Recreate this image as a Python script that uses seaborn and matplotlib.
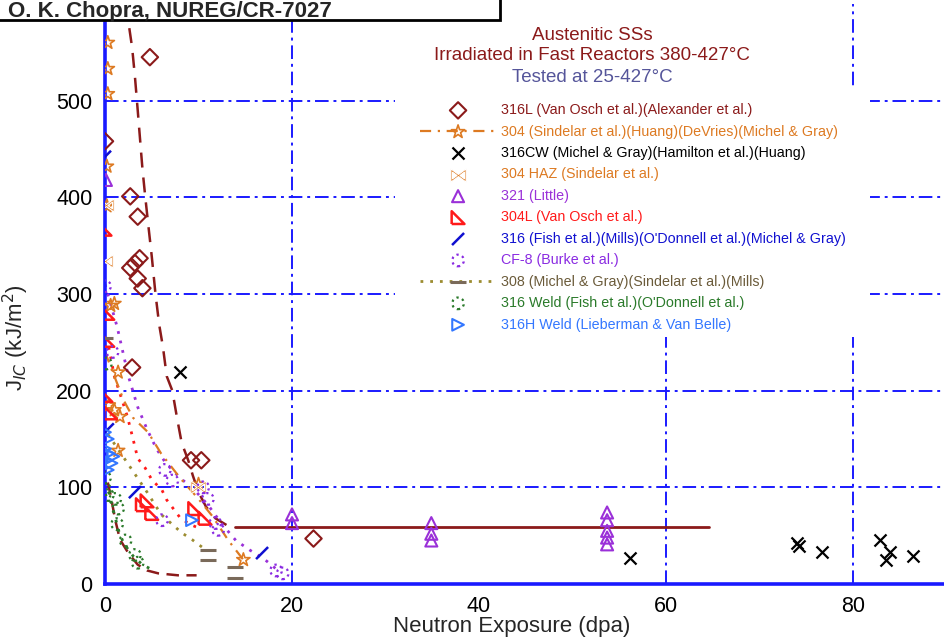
import matplotlib
matplotlib.use("Agg")
import matplotlib.pyplot as plt
import seaborn as sns
from matplotlib.patches import Rectangle
from matplotlib.ticker import MultipleLocator
from matplotlib.legend_handler import HandlerTuple

# ---------------- data ----------------
x_316L = [4.8, 0.0, 2.7, 3.5, 3.2, 2.7, 3.7, 3.5, 4.0, 2.9, 9.2, 10.3, 22.3]
y_316L = [545, 458, 401, 380, 332, 327, 337, 316, 306, 224, 128, 128, 47]

x_304 = [0.3, 0.3, 0.3, 0.2, 0.2, 0.6, 1.0, 1.4, 0.4, 1.0, 1.6, 1.4, 10.0, 14.8]
y_304 = [560, 533, 507, 432, 391, 288, 290, 219, 185, 180, 173, 138, 103, 25]

x_316CW = [8.0, 56.2, 74.0, 74.2, 76.7, 82.9, 84.0, 83.5, 86.4]
y_316CW = [219, 27, 42, 39, 33, 46, 33, 25, 29]

x_304HAZ = [0.0, 0.1, 9.9]
y_304HAZ = [334, 392, 100]

x_321 = [0.1, 20.0, 20.0, 34.9, 34.9, 34.9, 53.7, 53.7, 53.7, 53.7, 53.7]
y_321 = [418, 72, 63, 63, 52, 45, 74, 66, 55, 48, 41]

x_304L = [0.0, 0.3, 0.3, 0.1, 0.6, 4.0, 4.5, 5.0, 9.6, 10.7]
y_304L = [367, 280, 252, 195, 177, 82, 86, 73, 78, 68]

x_316 = [0.0, 0.3, 3.2, 16.8]
y_316 = [442, 160, 95, 32]

x_CF8 = [0.0, 0.8, 6.1, 6.4, 7.2, 10.5, 11.0, 11.8, 12.1, 18.3, 19.0]
y_CF8 = [308, 240, 66, 118, 107, 100, 88, 63, 56, 14, 11]

x_308 = [0.0, 11.0, 11.0, 13.9, 13.9]
y_308 = [255, 35, 25, 18, 6]

x_316W = [0.0, 0.0, 0.3, 1.1, 1.4, 1.3, 2.2, 3.2, 3.5, 0.1]
y_316W = [110, 98, 92, 88, 78, 62, 45, 30, 22, 228]

x_316HW = [0.0, 0.3, 0.0, 0.4, 0.2, 0.7, 0.9, 0.3, 9.3]
y_316HW = [157, 150, 140, 135, 128, 125, 132, 118, 66]

# trend curves
fit1_x = [2.6, 2.9, 3.2, 3.5, 4.0, 4.3, 4.6, 5.0, 5.4, 5.8, 6.2, 6.6, 7.2, 7.7, 8.2, 8.9, 9.4, 10.0, 10.8, 11.8, 13.0]
fit1_y = [575, 555, 525, 490, 430, 401, 374, 339, 300, 268, 245, 215, 200, 172, 146, 128, 112, 95, 80, 68, 61]
sat_x = [13.9, 64.6]
sat_y = [59, 59]
fit1b_x = [0.3, 0.6, 1.1, 1.6, 2.5, 3.5, 4.5, 5.7, 7.8, 9.8]
fit1b_y = [105, 92, 66, 46, 32, 20, 14, 11, 9, 9]
fit_red_x = [0.2, 1.0, 2.0, 2.4, 3.0, 3.5, 4.3, 5.0, 6.1, 6.6, 7.3, 8.0, 9.0, 10.0]
fit_red_y = [255, 215, 185, 173, 150, 130, 120, 108, 97, 87, 78, 69, 62, 58]
fit_pur_x = [0.0, 1.3, 2.5, 3.5, 4.5, 5.5, 6.5, 8.0, 9.5, 11.0, 12.5, 14.0, 15.5, 17.0, 18.5]
fit_pur_y = [310, 266, 215, 183, 160, 140, 125, 110, 98, 82, 62, 45, 35, 26, 14]
fit_or_x = [0.0, 1.0, 2.0, 3.0, 4.6, 6.0, 8.0, 10.0, 11.5, 13.2, 14.8]
fit_or_y = [240, 215, 190, 172, 157, 135, 110, 88, 70, 45, 25]
fit_ol_x = [0.3, 1.5, 2.9, 4.5, 6.0, 8.2, 9.3, 10.4, 11.0]
fit_ol_y = [155, 138, 118, 95, 72, 53, 46, 38, 35]
fit_gr_x = [0.0, 0.5, 1.0, 1.5, 2.0, 3.0, 4.0, 5.0]
fit_gr_y = [105, 92, 72, 54, 42, 29, 20, 15]

labels = [
    "316L (Van Osch et al.)(Alexander et al.)",
    "304 (Sindelar et al.)(Huang)(DeVries)(Michel & Gray)",
    "316CW (Michel & Gray)(Hamilton et al.)(Huang)",
    "304 HAZ (Sindelar et al.)",
    "321 (Little)",
    "304L (Van Osch et al.)",
    "316 (Fish et al.)(Mills)(O'Donnell et al.)(Michel & Gray)",
    "CF-8 (Burke et al.)",
    "308 (Michel & Gray)(Sindelar et al.)(Mills)",
    "316 Weld (Fish et al.)(O'Donnell et al.)",
    "316H Weld (Lieberman & Van Belle)",
]
title_lines = ["Austenitic SSs", "Irradiated in Fast Reactors 380-427°C", "Tested at 25-427°C"]
x_ticks = [0, 20, 40, 60, 80]
y_ticks = [0, 100, 200, 300, 400, 500]
grid_x = [20, 60, 80]
grid_y = [100, 200, 300, 400, 500]

# ---------------- style ----------------
sns.set_style("white")
plt.rcParams['font.family'] = ['Liberation Sans', 'DejaVu Sans']

C_DRED = "#8b1a1a"
C_OR = "#dd7a22"
C_PUR = "#9a30d8"
C_RED = "#ff1a1a"
C_BLUE = "#1010d0"
C_VIO = "#8a2be2"
C_OLIVE = "#9c8c30"
C_GB = "#7a6a5a"
C_GREEN = "#2a7a2a"
C_LBLUE = "#3377ff"
GRID = "#1a1aff"

W, H = 945, 644
fig = plt.figure(figsize=(W / 100, H / 100), dpi=100)
ax = fig.add_axes([105 / W, 60 / H, 841.5 / W, 580 / H])

gls = (0, (7, 2.5, 1.5, 2.5))
for gx in grid_x:
    ax.axvline(gx, color=GRID, lw=1.4, ls=gls, zorder=1)
for gy in grid_y:
    ax.axhline(gy, color=GRID, lw=1.4, ls=gls, zorder=1)

# white areas behind the key
def fig_rect(x0, y0, x1, y1):
    return Rectangle((x0 / W, 1 - y1 / H), (x1 - x0) / W, (y1 - y0) / H,
                     transform=fig.transFigure, facecolor="white", edgecolor="none", zorder=1.5)
ax.add_patch(fig_rect(395, 88, 870, 337))
ax.add_patch(fig_rect(420, 0, 780, 88))

# curves
def curve(x, y, color, ls, lw=1.8):
    sns.lineplot(x=x, y=y, color=color, linestyle=ls, lw=lw, sort=False, estimator=None, ax=ax, zorder=2)
    return ax.lines[-1]

curve(fit1_x, fit1_y, C_DRED, (0, (6, 4)), 1.8)
curve(sat_x, sat_y, C_DRED, "-", 2.0)
curve(fit1b_x, fit1b_y, C_DRED, (0, (5, 3)), 1.8)
curve(fit_red_x, fit_red_y, C_RED, (0, (1, 2.5)), 2.0)
curve(fit_pur_x, fit_pur_y, C_PUR, (0, (1, 2.5)), 2.0)
l_or = curve(fit_or_x, fit_or_y, C_OR, (0, (5, 3, 1, 3)), 1.6)
l_ol = curve(fit_ol_x, fit_ol_y, C_OLIVE, (0, (1, 2.5)), 2.0)
curve(fit_gr_x, fit_gr_y, C_GREEN, (0, (1, 2.5)), 2.0)

# markers
RTRI = [(-1, -1), (1, -1), (-1, 1), (-1, -1)]
SLASH = [(-1, -1), (1, 1)]

def pts(x, y, marker, color, s=60, lw=1.5, ls="-", filled=False):
    kw = dict(x=x, y=y, marker=marker, s=s, ax=ax, zorder=3, linewidth=lw, color=color)
    if not filled:
        kw.update(facecolors="none", edgecolor=color, linestyle=ls)
    sns.scatterplot(**kw)
    return ax.collections[-1]

h1 = pts(x_316L, y_316L, "D", C_DRED, s=70)
h2 = pts(x_304, y_304, "*", C_OR, s=100, lw=1.2)
h3 = pts(x_316CW, y_316CW, "x", "black", s=75, lw=1.6, filled=True)
h4 = pts(x_304HAZ, y_304HAZ, r"$\bowtie$", C_OR, s=120, lw=0.8, filled=True)
h5 = pts(x_321, y_321, "^", C_PUR, s=75)
h6 = pts(x_304L, y_304L, RTRI, C_RED, s=85, lw=1.8)
h7 = pts(x_316, y_316, SLASH, C_BLUE, s=75, lw=1.8)
h8 = pts(x_CF8, y_CF8, "o", C_VIO, s=70, lw=1.6, ls=":")
h9 = pts(x_308, y_308, "_", C_GB, s=120, lw=2.2, filled=True)
h10 = pts(x_316W, y_316W, "o", C_GREEN, s=70, lw=1.6, ls=":")
h11 = pts(x_316HW, y_316HW, ">", C_LBLUE, s=70)

handles = [h1, (l_or, h2), h3, h4, h5, h6, h7, h8, (l_ol, h9), h10, h11]
label_colors = [C_DRED, C_OR, "black", C_OR, C_PUR, C_RED, C_BLUE, C_VIO, "#6b5b3a", C_GREEN, C_LBLUE]
leg = ax.legend(handles, labels, handler_map={tuple: HandlerTuple(ndivide=1)},
                loc="upper left", bbox_to_anchor=(413 / W, 1 - 96 / H),
                bbox_transform=fig.transFigure, frameon=False, fontsize=10.3,
                handlelength=5.3, handletextpad=0.35, labelspacing=0.52, borderpad=0,
                labelcolor=label_colors, markerscale=1.0)
leg.set_zorder(5)

# title of the key
for i, (t, c) in enumerate(zip(title_lines, [C_DRED, C_DRED, "#55559a"])):
    fig.text(592 / W, 1 - (35 + 21 * i) / H, t, ha="center", va="center", fontsize=13.5, color=c, zorder=6)

# axes
ax.set_xlim(0, 90)
ax.set_ylim(0, 600)
ax.set_xticks(x_ticks)
ax.set_yticks(y_ticks)
ax.xaxis.set_minor_locator(MultipleLocator(5))
ax.yaxis.set_minor_locator(MultipleLocator(20))
ax.tick_params(which="major", direction="in", length=12, width=1.8, color=GRID,
               labelsize=15.5, pad=9, labelcolor="black")
ax.tick_params(which="minor", direction="in", length=6, width=1.8, color=GRID)
for side in ["top", "right"]:
    ax.spines[side].set_visible(False)
for side in ["left", "bottom"]:
    ax.spines[side].set_color(GRID)
    ax.spines[side].set_linewidth(2.6)

ax.set_xlabel("Neutron Exposure (dpa)", fontsize=16)
ax.set_ylabel("J$_{IC}$ (kJ/m$^2$)", fontsize=16)
ax.xaxis.set_label_coords((512 - 105) / 841.5, (584 - 616) / 580)
ax.yaxis.set_label_coords((31 - 105) / 841.5, (584 - 338) / 580)

# header box, top-left (text kept fully inside the picture)
fig.add_artist(Rectangle((-10 / W, 1 - 20 / H), 510 / W, 40 / H, transform=fig.transFigure,
                         facecolor="white", edgecolor="black", lw=2, zorder=7))
fig.text(8 / W, 1 - 16.5 / H, "O. K. Chopra, NUREG/CR-7027", fontsize=16, fontweight="bold",
         va="baseline", ha="left", zorder=8)

fig.savefig("out.png", dpi=100)
